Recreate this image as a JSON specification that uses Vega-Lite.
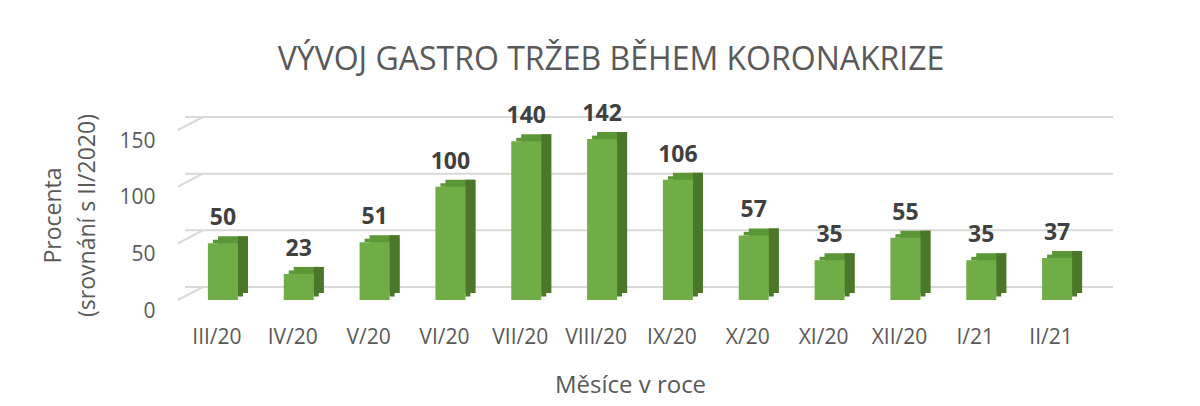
{
  "$schema": "https://vega.github.io/schema/vega-lite/v6.json",
  "width": 910,
  "height": 170,
  "autosize": "none",
  "padding": {"left": 185, "top": 130, "right": 105, "bottom": 106},
  "background": "white",
  "config": {"view": {"stroke": null}, "font": "Open Sans"},
  "title": {
    "text": "VÝVOJ GASTRO TRŽEB BĚHEM KORONAKRIZE",
    "font": "Open Sans",
    "fontSize": 32,
    "fontWeight": "normal",
    "color": "#595959",
    "anchor": "middle",
    "frame": "group",
    "baseline": "alphabetic",
    "dx": -29,
    "offset": 1
  },
  "datasets": {
    "grid": [{"v": 0}, {"v": 50}, {"v": 100}, {"v": 150}],
    "sales": [
      {"month": "III/20", "v": 50},
      {"month": "IV/20", "v": 23},
      {"month": "V/20", "v": 51},
      {"month": "VI/20", "v": 100},
      {"month": "VII/20", "v": 140},
      {"month": "VIII/20", "v": 142},
      {"month": "IX/20", "v": 106},
      {"month": "X/20", "v": 57},
      {"month": "XI/20", "v": 35},
      {"month": "XII/20", "v": 55},
      {"month": "I/21", "v": 35},
      {"month": "II/21", "v": 37}
    ]
  },
  "layer": [
    {
      "data": {"name": "grid"},
      "mark": {"type": "rule", "color": "#d9d9d9", "strokeWidth": 2, "xOffset": 18, "yOffset": -13},
      "encoding": {
        "y": {"field": "v", "type": "quantitative", "scale": {"domain": [0, 150], "nice": false}}
      }
    },
    {
      "data": {"name": "grid"},
      "mark": {"type": "rule", "color": "#d9d9d9", "strokeWidth": 2, "xOffset": -45, "x2Offset": -20, "yOffset": 0, "y2Offset": -13},
      "encoding": {
        "x": {"datum": "III/20", "type": "nominal"},
        "x2": {"datum": "III/20"},
        "y": {"field": "v", "type": "quantitative"},
        "y2": {"field": "v"}
      }
    },
    {
      "data": {"name": "sales"},
      "mark": {"type": "bar", "width": 30, "color": "#5b9737", "xOffset": 10, "yOffset": -7, "y2Offset": -7},
      "encoding": {
        "x": {"field": "month", "type": "nominal"},
        "y": {"field": "v", "type": "quantitative"}
      }
    },
    {
      "data": {"name": "sales"},
      "mark": {"type": "bar", "width": 30, "color": "#5b9737", "xOffset": 5, "yOffset": -3.5, "y2Offset": 0},
      "encoding": {
        "x": {"field": "month", "type": "nominal"},
        "y": {"field": "v", "type": "quantitative"},
        "y2": {"field": "v"}
      }
    },
    {
      "data": {"name": "sales"},
      "mark": {"type": "bar", "width": 10, "color": "#4a772a", "xOffset": 20, "yOffset": -7, "y2Offset": -7},
      "encoding": {
        "x": {"field": "month", "type": "nominal"},
        "y": {"field": "v", "type": "quantitative"}
      }
    },
    {
      "data": {"name": "sales"},
      "mark": {"type": "bar", "width": 5, "color": "#4a772a", "xOffset": 17.5, "yOffset": -7, "y2Offset": -3.5},
      "encoding": {
        "x": {"field": "month", "type": "nominal"},
        "y": {"datum": 0, "type": "quantitative"},
        "y2": {"datum": 0}
      }
    },
    {
      "data": {"name": "sales"},
      "mark": {"type": "bar", "width": 30, "color": "#70ad47"},
      "encoding": {
        "x": {
          "field": "month",
          "type": "nominal",
          "scale": {"domain": ["III/20", "IV/20", "V/20", "VI/20", "VII/20", "VIII/20", "IX/20", "X/20", "XI/20", "XII/20", "I/21", "II/21"], "paddingInner": 0, "paddingOuter": 0},
          "axis": {
            "title": "Měsíce v roce",
            "labelAngle": 0,
            "labelAlign": "center",
            "domain": false,
            "ticks": false,
            "labelPadding": 37,
            "labelOffset": -6,
            "labelFont": "Open Sans",
            "labelFontSize": 21,
            "labelColor": "#595959",
            "titleFont": "Open Sans",
            "titleFontSize": 24,
            "titleFontWeight": "normal",
            "titleColor": "#595959",
            "titleX": 445,
            "titleY": 92,
            "titleBaseline": "alphabetic",
            "titleAlign": "center"
          }
        },
        "y": {
          "field": "v",
          "type": "quantitative",
          "axis": {
            "title": ["Procenta", "(srovnání s II/2020)"],
            "values": [0, 50, 100, 150],
            "grid": false,
            "domain": false,
            "ticks": false,
            "labelPadding": 30,
            "labelOffset": 11,
            "labelFont": "Open Sans",
            "labelFontSize": 21,
            "labelColor": "#595959",
            "titleFont": "Open Sans",
            "titleFontSize": 23,
            "titleFontWeight": "normal",
            "titleColor": "#595959",
            "titleLineHeight": 34,
            "titleAngle": -90,
            "titleX": -125,
            "titleY": 85,
            "titleBaseline": "alphabetic",
            "titleAlign": "center"
          }
        }
      }
    },
    {
      "data": {"name": "sales"},
      "mark": {"type": "text", "baseline": "alphabetic", "dy": -18, "font": "Open Sans", "fontSize": 23, "fontWeight": "bold", "color": "#404040"},
      "encoding": {
        "x": {"field": "month", "type": "nominal"},
        "y": {"field": "v", "type": "quantitative"},
        "text": {"field": "v", "type": "quantitative"}
      }
    }
  ]
}
